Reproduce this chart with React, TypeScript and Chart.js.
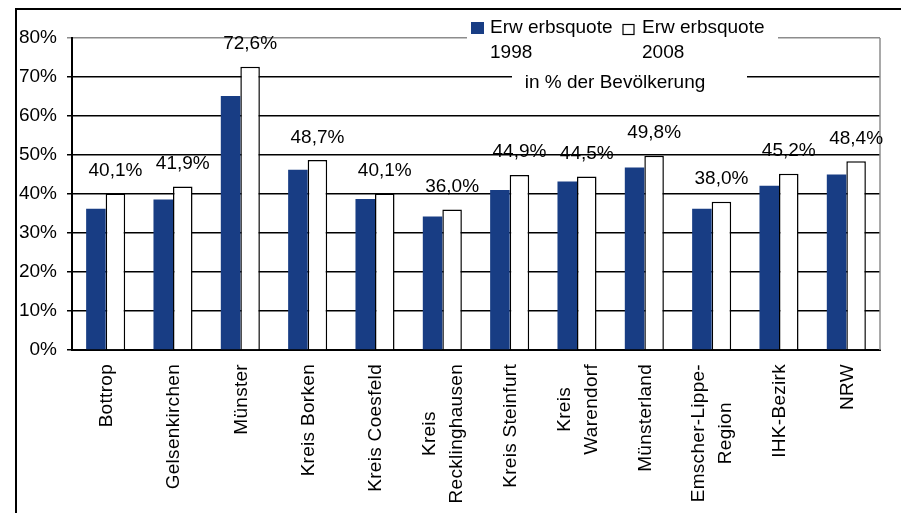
import React, { useEffect, useRef } from 'react';
import { Chart, registerables } from 'chart.js';

Chart.register(...registerables);

// ---- data ----
const categories: (string | string[])[] = [
  'Bottrop',
  'Gelsenkirchen',
  'Münster',
  'Kreis Borken',
  'Kreis Coesfeld',
  ['Kreis', 'Recklinghausen'],
  'Kreis Steinfurt',
  ['Kreis', 'Warendorf'],
  'Münsterland',
  ['Emscher-Lippe-', 'Region'],
  'IHK-Bezirk',
  'NRW',
];
const values1998 = [36.2, 38.6, 65.1, 46.2, 38.7, 34.2, 41.0, 43.2, 46.8, 36.2, 42.1, 45.0];
const values2008 = [40.1, 41.9, 72.6, 48.7, 40.1, 36.0, 44.9, 44.5, 49.8, 38.0, 45.2, 48.4];
const seriesNames = [
  ['Erw erbsquote', '1998'],
  ['Erw erbsquote', '2008'],
];
const yMin = 0;
const yMax = 80;
const yStep = 10;
const unitNote = 'in % der Bevölkerung';

const FONT_FAMILY = '"Liberation Sans", Arial, sans-serif';
const FONT = `19px ${FONT_FAMILY}`;
const BLUE = '#183D84';
const GREY = '#8c8c8c';

const fmt = (v: number) => v.toFixed(1).replace('.', ',') + '%';

const decorPlugin = {
  id: 'decor',
  afterDraw(chart: any) {
    const ctx = chart.ctx as CanvasRenderingContext2D;
    const { right, top, bottom } = chart.chartArea;
    ctx.save();

    // plot area right border (grey)
    ctx.strokeStyle = GREY;
    ctx.lineWidth = 1.5;
    ctx.beginPath();
    ctx.moveTo(right, top);
    ctx.lineTo(right, bottom);
    ctx.stroke();

    // data labels for 2008
    ctx.font = FONT;
    ctx.fillStyle = '#000';
    ctx.textAlign = 'center';
    ctx.textBaseline = 'alphabetic';
    const meta = chart.getDatasetMeta(1);
    meta.data.forEach((bar: any, i: number) => {
      ctx.fillText(fmt(values2008[i]), bar.x, bar.y - 17.5);
    });

    // x labels (rotated, centered lines)
    (ctx as any).letterSpacing = '0.3px';
    const xs = chart.scales.x;
    const lineH = 27;
    categories.forEach((lab, i) => {
      const lines = Array.isArray(lab) ? lab : [lab];
      const cx = xs.getPixelForValue(i);
      const maxW = Math.max(...lines.map((l) => ctx.measureText(l).width));
      lines.forEach((l, j) => {
        ctx.save();
        ctx.translate(cx + 1 + (j - (lines.length - 1) / 2) * lineH, bottom + 14);
        ctx.rotate(-Math.PI / 2);
        ctx.textAlign = 'center';
        ctx.textBaseline = 'middle';
        ctx.fillText(l, -maxW / 2, 0);
        ctx.restore();
      });
    });
    (ctx as any).letterSpacing = '0px';

    // legend box
    ctx.fillStyle = '#fff';
    ctx.fillRect(467, 11, 311, 54);
    ctx.fillStyle = BLUE;
    ctx.fillRect(471, 22, 13, 12);
    ctx.fillStyle = '#fff';
    ctx.fillRect(623, 24.5, 11, 10);
    ctx.strokeStyle = '#000';
    ctx.lineWidth = 1.2;
    ctx.strokeRect(623, 24.5, 11, 10);
    ctx.fillStyle = '#000';
    ctx.font = FONT;
    ctx.textAlign = 'left';
    ctx.textBaseline = 'alphabetic';
    const legX = [490, 642];
    seriesNames.forEach((lines, s) => {
      lines.forEach((l, j) => {
        ctx.fillText(l, legX[s], 32.5 + j * 25);
      });
    });

    // unit note box
    ctx.fillStyle = '#fff';
    ctx.fillRect(512, 68, 235, 24);
    ctx.fillStyle = '#000';
    ctx.textAlign = 'center';
    ctx.fillText(unitNote, 615, 88);

    // outer border
    ctx.strokeStyle = '#000';
    ctx.lineWidth = 2;
    ctx.beginPath();
    ctx.moveTo(16, 520);
    ctx.lineTo(16, 9);
    ctx.lineTo(905, 9);
    ctx.stroke();

    ctx.restore();
  },
};

export default function App() {
  const ref = useRef<HTMLCanvasElement | null>(null);

  useEffect(() => {
    if (!ref.current) return;
    const chart = new Chart(ref.current, {
      type: 'bar',
      data: {
        labels: categories,
        datasets: [
          {
            label: seriesNames[0].join(' '),
            data: values1998,
            backgroundColor: BLUE,
            borderWidth: 0,
            categoryPercentage: 0.58,
            barPercentage: 1,
          },
          {
            label: seriesNames[1].join(' '),
            data: values2008,
            backgroundColor: '#ffffff',
            borderColor: '#000000',
            borderWidth: 1.5,
            categoryPercentage: 0.58,
            barPercentage: 1,
          },
        ],
      },
      options: {
        responsive: false,
        animation: false,
        devicePixelRatio: 1,
        layout: { padding: { left: 16, top: 38, right: 21, bottom: 0 } },
        plugins: {
          legend: { display: false },
          tooltip: { enabled: false },
        },
        scales: {
          x: {
            type: 'category',
            offset: true,
            grid: { display: false },
            border: { display: true, color: '#000', width: 2 },
            ticks: { display: false },
            afterFit: (s: any) => {
              s.height = 163;
            },
          },
          y: {
            min: yMin,
            max: yMax,
            ticks: {
              stepSize: yStep,
              callback: (v: any) => v + '%',
              font: { family: FONT_FAMILY, size: 19 },
              color: '#000',
              padding: 10,
            },
            grid: {
              color: (c: any) => (c.tick && c.tick.value === yMax ? GREY : '#000'),
              lineWidth: 1.5,
              tickLength: 5,
            },
            border: { color: '#000', width: 2 },
            afterFit: (s: any) => {
              s.width = 56;
            },
          },
        },
      },
      plugins: [decorPlugin],
    } as any);
    return () => chart.destroy();
  }, []);

  return (
    <div style={{ position: 'fixed', left: 0, top: 0, width: 901, height: 513, background: '#fff' }}>
      <canvas ref={ref} width={901} height={513} style={{ display: 'block' }} />
    </div>
  );
}
